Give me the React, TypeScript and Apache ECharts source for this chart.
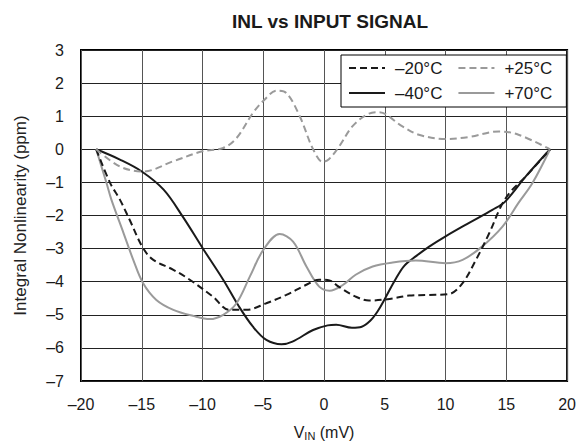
import React, { useEffect, useRef } from "react";
import * as echarts from "echarts";

const titleText = "INL vs INPUT SIGNAL";
const xTicks = { min: -20, max: 20, interval: 5 };
const yTicks = { min: -7, max: 3, interval: 1 };
const seriesNames = ["\u201320\u00b0C", "+25\u00b0C", "\u201340\u00b0C", "+70\u00b0C"];

const inlM20: [number, number][] = [
  [-18.75, 0], [-17.6, -1.02], [-16.8, -1.52], [-16.0, -2.13], [-14.9, -2.98], [-14.05, -3.34],
  [-12.4, -3.64], [-11.05, -3.94], [-9.15, -4.45], [-7.8, -4.85], [-6.4, -4.85], [-4.75, -4.65],
  [-3.1, -4.4], [-1.5, -4.1], [-0.4, -3.94], [0.45, -3.96], [1.2, -4.15], [2.6, -4.45], [3.7, -4.57],
  [5.4, -4.52], [7.0, -4.42], [8.65, -4.4], [10.3, -4.37], [11.4, -4.04], [12.5, -3.34], [13.6, -2.53],
  [14.55, -1.73], [15.3, -1.3], [16.6, -0.82], [18.6, 0],
];
const inlP25: [number, number][] = [
  [-18.75, 0], [-16.8, -0.52], [-14.9, -0.67], [-12.4, -0.36], [-10.0, -0.06], [-8.3, 0.04],
  [-7.2, 0.34], [-5.85, 1.1], [-4.9, 1.5], [-3.9, 1.77], [-3.1, 1.7], [-2.0, 1.0], [-0.9, 0.0],
  [-0.1, -0.38], [0.4, -0.3], [1.25, 0.09], [2.35, 0.7], [3.7, 1.08], [4.5, 1.12], [6.45, 0.69],
  [7.8, 0.44], [10.0, 0.31], [11.9, 0.37], [14.4, 0.54], [16.0, 0.44], [18.6, 0],
];
const inlM40: [number, number][] = [
  [-18.75, 0], [-16.8, -0.31], [-15.0, -0.67], [-13.2, -1.22], [-11.6, -2.05], [-10.0, -2.98],
  [-8.3, -3.94], [-7.0, -4.75], [-5.85, -5.36], [-4.75, -5.76], [-3.5, -5.89], [-2.6, -5.81],
  [-0.9, -5.46], [0.3, -5.32], [1.0, -5.3], [2.3, -5.39], [3.1, -5.36], [3.8, -5.18], [4.4, -4.9],
  [5.0, -4.52], [5.8, -3.98], [6.6, -3.52], [7.6, -3.22], [8.65, -2.94], [10.0, -2.63], [11.9, -2.23],
  [13.85, -1.83], [14.9, -1.58], [16.6, -0.82], [18.6, 0],
];
const inlP70: [number, number][] = [
  [-18.75, 0], [-17.9, -1.02], [-17.5, -1.52], [-16.5, -2.53], [-15.7, -3.34], [-14.9, -4.04],
  [-13.8, -4.55], [-12.4, -4.85], [-10.8, -5.03], [-9.4, -5.13], [-8.3, -5.0], [-7.2, -4.65],
  [-6.1, -3.84], [-5.0, -3.04], [-3.65, -2.56], [-2.55, -2.79], [-1.45, -3.54], [-0.4, -4.15],
  [0.45, -4.27], [1.55, -4.1], [2.6, -3.79], [4.0, -3.54], [5.65, -3.42], [7.55, -3.36],
  [10.0, -3.44], [11.4, -3.34], [13.0, -2.94], [14.7, -2.33], [16.0, -1.62], [17.15, -1.02], [18.6, 0],
];

const FONT = "'Liberation Sans', Arial, Helvetica, sans-serif";
const BLACK = "#1a1a1a";
const GRAY = "#9a9a9a";

const fmt = (v: number) => String(v).replace("-", "\u2013");

export default function App() {
  const ref = useRef<HTMLDivElement>(null);
  useEffect(() => {
    if (!ref.current) return;
    const chart = echarts.init(ref.current, null, { renderer: "svg" });
    const mk = (name: string, data: [number, number][], color: string, dashed: boolean) => ({
      name,
      type: "line",
      data,
      smooth: 0.35,
      symbol: "none",
      lineStyle: { color, width: 2, type: dashed ? [7, 4] : "solid" },
      itemStyle: { color },
      z: dashed ? 3 : 2,
    });
    chart.setOption({
      animation: false,
      textStyle: { fontFamily: FONT },
      title: {
        text: titleText,
        left: 325,
        textAlign: "center",
        top: 7,
        textStyle: { fontFamily: FONT, fontSize: 19, fontWeight: "bold", color: BLACK },
      },
      grid: {
        left: 81,
        right: 11,
        top: 50,
        bottom: 65,
        show: true,
        borderColor: "#000",
        borderWidth: 2,
        backgroundColor: "#fff",
      },
      legend: {
        data: seriesNames,
        left: 341,
        top: 55,
        width: 215,
        padding: [3, 4, 4, 7],
        itemGap: 5,
        itemWidth: 36,
        itemHeight: 14,
        borderColor: "#000",
        borderWidth: 1,
        borderRadius: 0,
        backgroundColor: "#fff",
        itemStyle: { opacity: 0 },
        textStyle: {
          fontFamily: FONT,
          fontSize: 17,
          lineHeight: 20,
          color: BLACK,
          padding: [0, 10, 0, 5],
        },
      },
      xAxis: {
        type: "value",
        min: xTicks.min,
        max: xTicks.max,
        interval: xTicks.interval,
        axisLine: { show: false },
        axisTick: { show: false },
        axisLabel: { formatter: fmt, fontFamily: FONT, fontSize: 16, color: BLACK, margin: 15 },
        splitLine: { show: true, lineStyle: { color: "#555", width: 1 } },
        name: "{a|V}{s|IN}{a| (mV)}",
        nameLocation: "middle",
        nameGap: 42,
        nameTextStyle: {
          rich: {
            a: { fontFamily: FONT, fontSize: 16, color: BLACK },
            s: { fontFamily: FONT, fontSize: 11, color: BLACK, padding: [7, 0, 0, 0] },
          },
        },
      },
      yAxis: {
        type: "value",
        min: yTicks.min,
        max: yTicks.max,
        interval: yTicks.interval,
        axisLine: { show: false },
        axisTick: { show: false },
        axisLabel: { formatter: fmt, fontFamily: FONT, fontSize: 16, color: BLACK, margin: 17 },
        splitLine: { show: true, lineStyle: { color: "#222", width: 1 } },
        name: "Integral Nonlinearity (ppm)",
        nameLocation: "middle",
        nameGap: 52,
        nameTextStyle: { fontFamily: FONT, fontSize: 17, color: "#222" },
      },
      series: [
        mk(seriesNames[0], inlM20, BLACK, true),
        mk(seriesNames[1], inlP25, GRAY, true),
        mk(seriesNames[2], inlM40, BLACK, false),
        mk(seriesNames[3], inlP70, GRAY, false),
      ],
    });
    return () => chart.dispose();
  }, []);
  return (
    <div
      ref={ref}
      style={{ position: "absolute", left: 0, top: 0, width: 579, height: 446 }}
    />
  );
}
